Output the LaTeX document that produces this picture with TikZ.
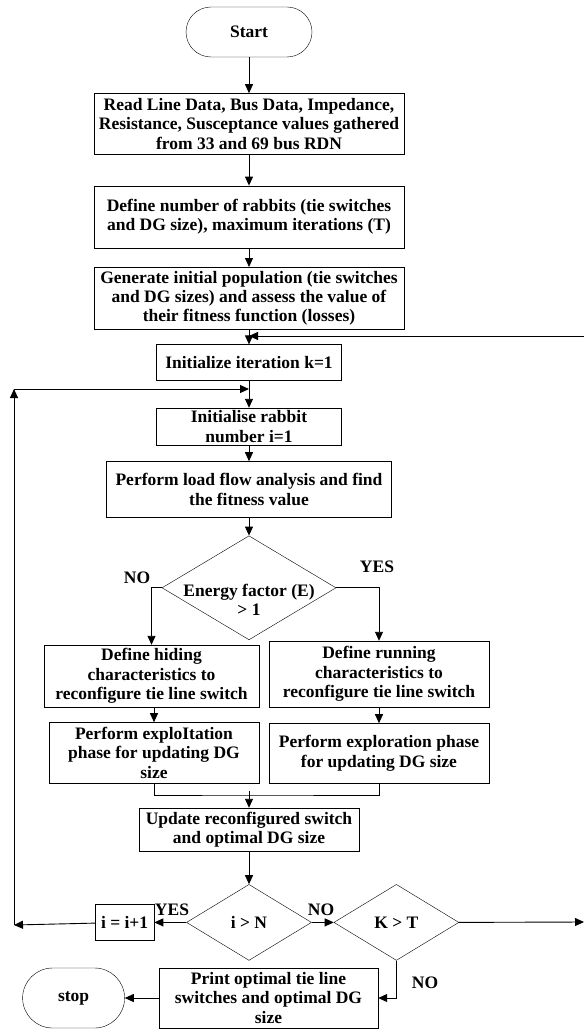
\documentclass[tikz,border=0pt]{standalone}
\usepackage{fontspec}
\setmainfont{Liberation Serif}
\usepackage{tikz}
\usetikzlibrary{positioning, shapes.geometric, arrows.meta}

\begin{document}
\begin{tikzpicture}[
    x=1pt, y=-1pt,
    node distance=20pt,
    every node/.style={font=\fontsize{17.5}{19.3}\selectfont\bfseries, align=center},
    box/.style={rectangle, draw, inner sep=2pt},
    term/.style={rectangle, draw, inner sep=2pt},
    decision/.style={diamond, draw, inner sep=0pt},
    arrow/.style={-{Triangle[length=9pt, width=8pt]}, line width=0.9pt},
    line/.style={line width=0.9pt}
]
\useasboundingbox (0,0) rectangle (584,1030);

% Main column
\node (start) [term, rounded corners=25pt, minimum width=126pt, minimum height=50pt] at (249,32) {Start};
\node (read) [box, below=36pt of start, minimum width=310pt, minimum height=61pt] {Read Line Data, Bus Data, Impedance,\\Resistance, Susceptance values gathered\\from 33 and 69 bus RDN};
\node (define) [box, below=31pt of read, minimum width=310pt, minimum height=62pt] {Define number of rabbits (tie switches\\and DG size), maximum iterations (T)};
\node (generate) [box, below=19pt of define, minimum width=310pt, minimum height=62pt] {Generate initial population (tie switches\\and DG sizes) and assess the value of\\their fitness function (losses)};
\node (inititer) [box, below=15pt of generate, minimum width=185pt, minimum height=36pt] {Initialize iteration k=1};
\node (initrabbit) [box, below=27pt of inititer, minimum width=185pt, minimum height=37pt] {Initialise rabbit\\number i=1};
\node (loadflow) [box, below=16pt of initrabbit, minimum width=285pt, minimum height=56pt] {Perform load flow analysis and find\\the fitness value};
\node (energy) [decision, below=18pt of loadflow, minimum width=174pt, minimum height=104pt,
    label={[yshift=-12pt]center:{Energy factor (E)\\> 1}}] {};

% Branches
\node (hiding) [box, minimum width=215pt, minimum height=62pt] at (151.5,676) {Define hiding\\characteristics to\\reconfigure tie line switch};
\node (running) [box, minimum width=220pt, minimum height=66pt] at (379,674) {Define running\\characteristics to\\reconfigure tie line switch};
\node (exploit) [box, below=15pt of hiding, minimum width=210pt, minimum height=61pt, xshift=2.5pt] {Perform exploItation\\phase for updating DG\\size};
\node (explore) [box, below=16pt of running, minimum width=220pt, minimum height=60pt] {Perform exploration phase\\for updating DG size};

% Bottom part
\node (update) [box, minimum width=220pt, minimum height=43pt] at (249,829.5) {Update reconfigured switch\\and optimal DG size};
\node (iN) [decision, below=33pt of update, minimum width=125pt, minimum height=76pt,
    label={center:i > N}] {};
\node (KT) [decision, right=22pt of iN, minimum width=125pt, minimum height=76pt,
    label={center:K > T}] {};
\node (incr) [box, left=32pt of iN, minimum width=59pt, minimum height=36pt] {i = i+1};
\node (print) [box, minimum width=219pt, minimum height=60pt] at (268.5,998) {Print optimal tie line\\switches and optimal DG\\size};
\node (stop) [term, rounded corners=30pt, left=34pt of print, minimum width=102pt, minimum height=60pt] {stop};

% Helper points
\coordinate (junction) at (249,336);
\coordinate (inR) at (584,336);
\coordinate (loop) at (249,389);
\coordinate (loopcorner) at (14,389);
\coordinate (back) at (14,925);
\coordinate (merge) at (249,795);
\coordinate (outR) at (584,922);

% Arrows
\draw [arrow] (start) -- (read);
\draw [arrow] (read) -- (define);
\draw [arrow] (define) -- (generate);
\draw [arrow] (generate) -- (inititer);
\draw [arrow] (inR) -- (junction);
\draw [arrow] (inititer) -- (initrabbit);
\draw [arrow] (loopcorner) -- (loop);
\draw [arrow] (initrabbit) -- (loadflow);
\draw [arrow] (loadflow) -- (energy);
\draw [arrow] (energy.west) -| (hiding.north);
\draw [arrow] (energy.east) -| (running.north);
\draw [arrow] (hiding.south -| exploit.north) -- (exploit.north);
\draw [arrow] (running) -- (explore);
\draw [line] (exploit.south) |- (merge) -| (explore.south);
\draw [arrow] (merge) ++(0,-4) -- (update);
\draw [arrow] (update) -- (iN);
\draw [arrow] (iN) -- (incr);
\draw [arrow] (incr) -- (back);
\draw [arrow] (back) -- (loopcorner);
\draw [arrow] (iN) -- (KT);
\draw [arrow] (KT.east) -- (outR);
\draw [arrow] (KT.south) |- (print.east);
\draw [arrow] (print) -- (stop);

% Labels
\node (noE) at (137,578) {NO};
\node (yesE) at (377,567) {YES};
\node (yesN) at (172,910) {YES};
\node (noN) at (321,910) {NO};
\node (noK) at (425,983) {NO};

\end{tikzpicture}
\end{document}
